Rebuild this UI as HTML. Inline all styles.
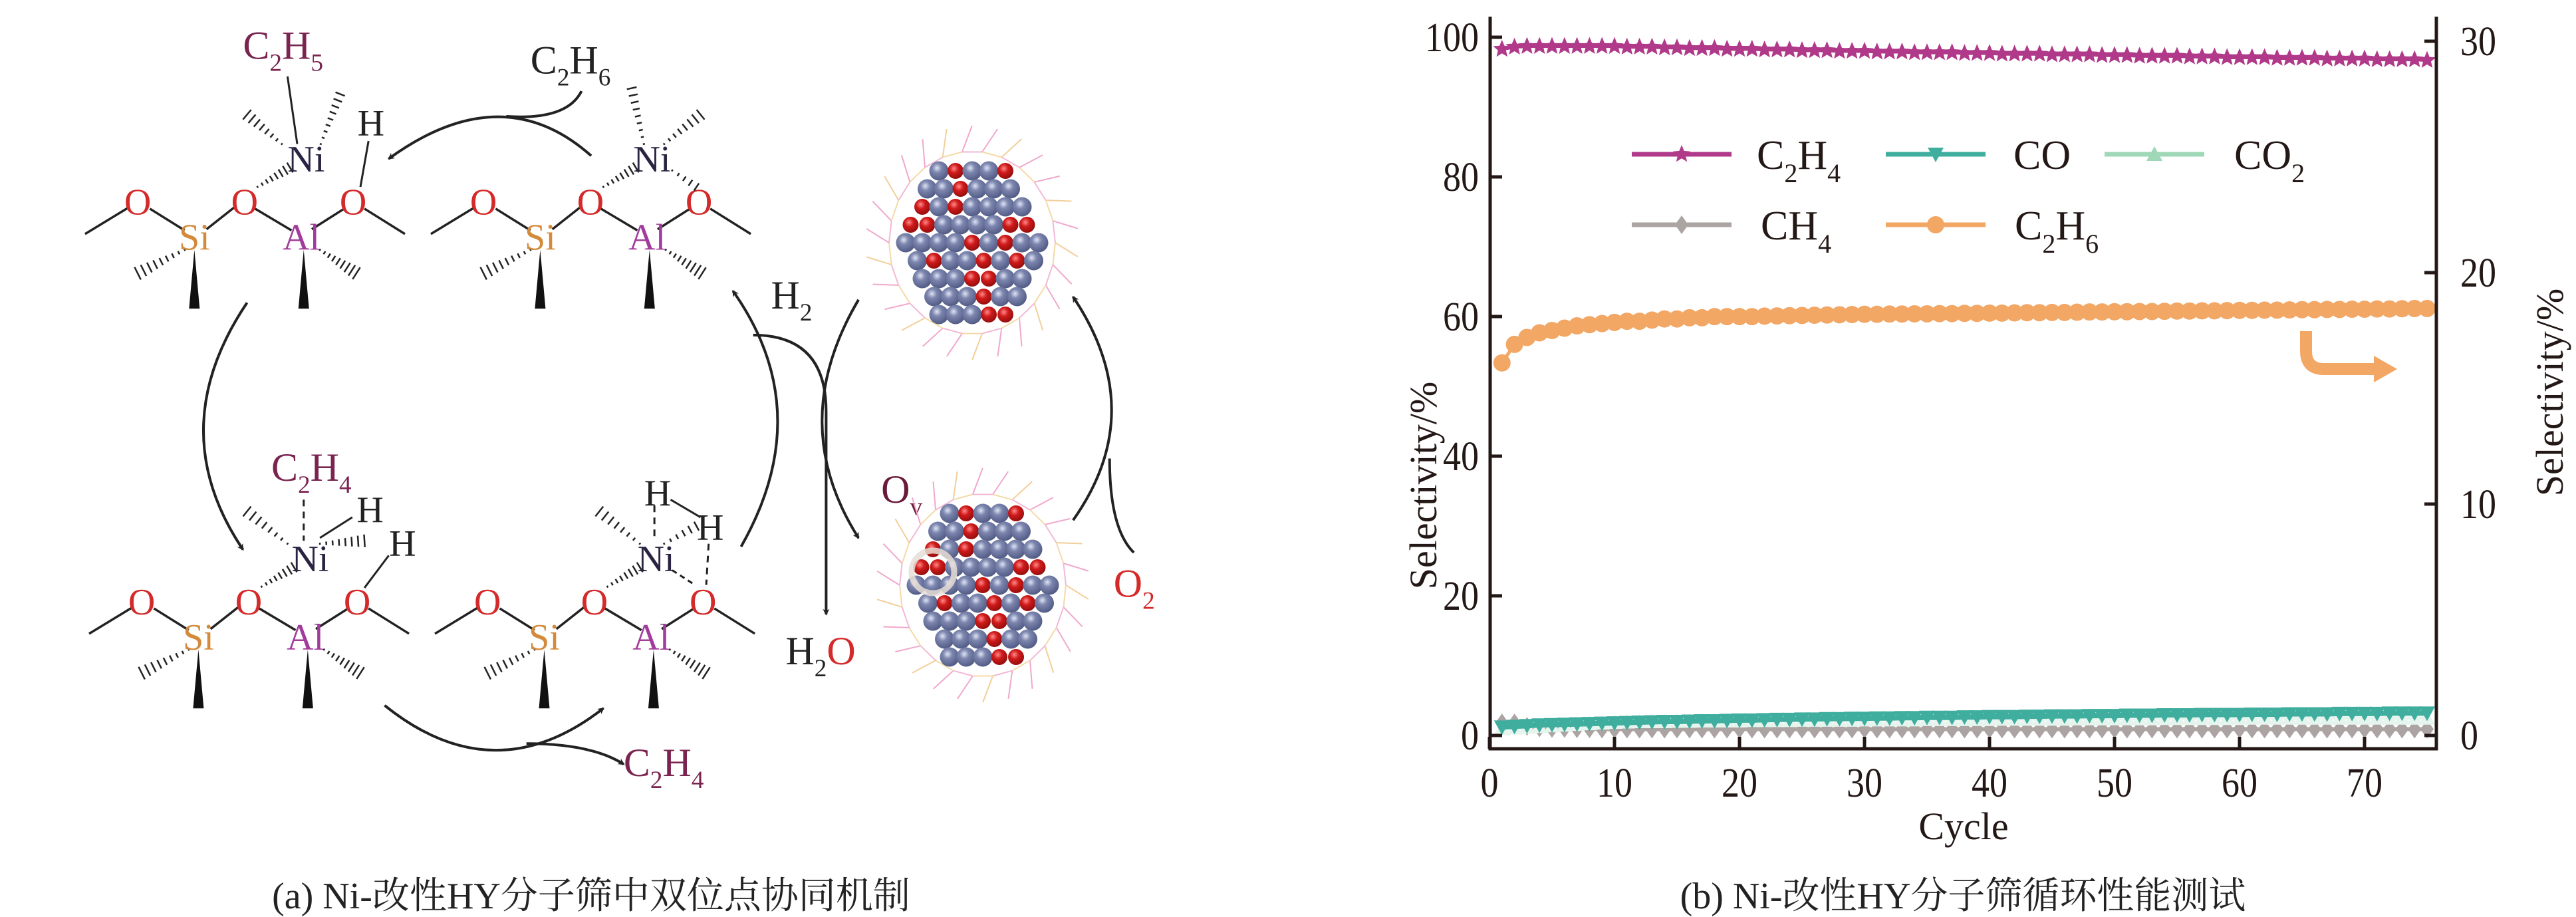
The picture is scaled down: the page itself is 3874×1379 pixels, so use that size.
<!DOCTYPE html>
<html><head><meta charset="utf-8"><style>
html,body{margin:0;padding:0;background:#fff;}
svg{display:block;}
text{font-family:"Liberation Serif","Noto Serif CJK SC",serif;}
</style></head><body>
<svg id="root" width="3874" height="1379" viewBox="0 0 3874 1379" xmlns="http://www.w3.org/2000/svg">
<defs>
<radialGradient id="gB" cx="0.4" cy="0.35" r="0.7"><stop offset="0" stop-color="#dfe4f5"/><stop offset="0.35" stop-color="#7c86ae"/><stop offset="1" stop-color="#4d5680"/></radialGradient>
<radialGradient id="gR" cx="0.4" cy="0.35" r="0.7"><stop offset="0" stop-color="#ff8a8a"/><stop offset="0.4" stop-color="#d01a1a"/><stop offset="1" stop-color="#8e0c0c"/></radialGradient>
<marker id="ah" markerWidth="10" markerHeight="10" refX="8" refY="5" orient="auto" markerUnits="userSpaceOnUse"><path d="M0,0 L10,5 L0,10 L3,5 z" fill="#222"/></marker>
</defs>
<g id="diagram"></g>
<text x="889" y="1366" font-size="56" text-anchor="middle" fill="#222">(a) Ni-改性HY分子筛中双位点协同机制</text>
<g id="chart"></g>
<text x="2952" y="1366" font-size="56" text-anchor="middle" fill="#222">(b) Ni-改性HY分子筛循环性能测试</text>
</svg>
<script>
// ---------- chart data ----------
const cycles = [1,2,3,4,5,6,7,8,9,10,11,12,13,14,15,16,17,18,19,20,21,22,23,24,25,26,27,28,29,30,31,32,33,34,35,36,37,38,39,40,41,42,43,44,45,46,47,48,49,50,51,52,53,54,55,56,57,58,59,60,61,62,63,64,65,66,67,68,69,70,71,72,73,74,75];
const c2h4 = [98.3,98.6,98.7,98.7,98.7,98.7,98.7,98.7,98.7,98.7,98.6,98.6,98.6,98.5,98.5,98.4,98.4,98.4,98.3,98.3,98.3,98.2,98.2,98.2,98.1,98.1,98.1,98.0,98.0,98.0,97.9,97.9,97.9,97.8,97.8,97.8,97.8,97.7,97.7,97.7,97.6,97.6,97.6,97.6,97.5,97.5,97.5,97.5,97.4,97.4,97.4,97.3,97.3,97.3,97.3,97.2,97.2,97.2,97.1,97.1,97.1,97.1,97.0,97.0,97.0,97.0,96.9,96.9,96.9,96.9,96.8,96.8,96.8,96.8,96.7];
const c2h6 = [16.1,16.9,17.2,17.4,17.5,17.6,17.7,17.75,17.8,17.85,17.9,17.9,17.95,18.0,18.0,18.05,18.05,18.1,18.1,18.1,18.1,18.12,18.13,18.14,18.15,18.16,18.17,18.18,18.19,18.2,18.2,18.21,18.21,18.22,18.22,18.23,18.23,18.24,18.24,18.25,18.25,18.26,18.27,18.27,18.28,18.28,18.29,18.3,18.3,18.31,18.31,18.32,18.32,18.33,18.34,18.34,18.35,18.35,18.36,18.37,18.37,18.38,18.38,18.39,18.4,18.4,18.41,18.41,18.42,18.42,18.43,18.43,18.44,18.45,18.45];
const co = [1.2,1.3,1.4,1.5,1.55,1.6,1.65,1.7,1.75,1.8,1.85,1.9,1.95,2.0,2.0,2.05,2.1,2.1,2.15,2.2,2.2,2.25,2.3,2.3,2.35,2.35,2.4,2.4,2.45,2.45,2.5,2.5,2.55,2.55,2.6,2.6,2.6,2.65,2.65,2.7,2.7,2.7,2.75,2.75,2.8,2.8,2.8,2.85,2.85,2.85,2.9,2.9,2.9,2.95,2.95,2.95,3.0,3.0,3.0,3.0,3.05,3.05,3.05,3.1,3.1,3.1,3.1,3.15,3.15,3.15,3.15,3.2,3.2,3.2,3.2];
const co2 = [1.0,1.1,1.2,1.3,1.4,1.5,1.6,1.7,1.8,1.9,1.95,2.0,2.0,2.0,2.05,2.05,2.1,2.1,2.1,2.1,2.15,2.15,2.15,2.15,2.2,2.2,2.2,2.2,2.2,2.25,2.25,2.25,2.25,2.25,2.3,2.3,2.3,2.3,2.3,2.3,2.35,2.35,2.35,2.35,2.35,2.35,2.4,2.4,2.4,2.4,2.4,2.4,2.4,2.45,2.45,2.45,2.45,2.45,2.45,2.45,2.5,2.5,2.5,2.5,2.5,2.5,2.5,2.5,2.5,2.5,2.5,2.5,2.5,2.5,2.5];
const ch4 = [1.8,1.8,1.3,1.1,1.0,1.0,0.95,0.95,0.9,0.9,0.9,0.9,0.9,0.9,0.9,0.9,0.9,0.9,0.9,0.9,0.9,0.9,0.9,0.9,0.9,0.9,0.9,0.9,0.9,0.9,0.9,0.9,0.9,0.9,0.9,0.9,0.9,0.9,0.9,0.9,0.9,0.9,0.9,0.9,0.9,0.9,0.9,0.9,0.9,0.9,0.9,0.9,0.9,0.9,0.9,0.9,0.9,0.9,0.9,0.9,0.9,0.9,0.9,0.9,0.9,0.9,0.9,0.9,0.9,0.9,0.9,0.9,0.9,0.9,0.9];
const xTicks = [0,10,20,30,40,50,60,70];
const yLeftTicks = [0,20,40,60,80,100];
const yRightTicks = [0,10,20,30];

const NS = "http://www.w3.org/2000/svg";
function mk(tag, attrs, parent){const e=document.createElementNS(NS,tag);for(const k in attrs)e.setAttribute(k,attrs[k]);parent.appendChild(e);return e;}

const chart = document.getElementById('chart');
const PL=2241, PR=3664, PT=25, PB=1126;
const xs = v => 2240 + v*18.8;
const yl = v => 1106 - v*10.5;
const yr = v => 1106 - v*(1106-62)/30;

function starPath(cx,cy,r){let d='';for(let i=0;i<10;i++){const a=-Math.PI/2+i*Math.PI/5;const rr=i%2?r*0.45:r;d+=(i?'L':'M')+(cx+rr*Math.cos(a)).toFixed(1)+','+(cy+rr*Math.sin(a)).toFixed(1);}return d+'Z';}
function marker(type,cx,cy,color,g){
  let el;
  if(type==='star') el=mk('path',{d:starPath(cx,cy,14),fill:color},g);
  else if(type==='down') el=mk('path',{d:`M${cx-12},${cy-10}L${cx+12},${cy-10}L${cx},${cy+12}Z`,fill:color},g);
  else if(type==='up') el=mk('path',{d:`M${cx-12},${cy+10}L${cx+12},${cy+10}L${cx},${cy-12}Z`,fill:color},g);
  else if(type==='diamond') el=mk('path',{d:`M${cx},${cy-14}L${cx+10},${cy}L${cx},${cy+14}L${cx-10},${cy}Z`,fill:color},g);
  else el=mk('circle',{cx:cx,cy:cy,r:13,fill:color},g);
  return el;
}
function series(name,vals,yf,color,type,lw){
  const g=mk('g',{},chart);
  
  
  const pts=vals.map((v,i)=>xs(cycles[i]).toFixed(1)+','+yf(v).toFixed(1)).join(' ');
  const ln=mk('polyline',{points:pts,fill:'none',stroke:color,'stroke-width':lw},g);
  
  
  vals.forEach((v,i)=>{
    const m=marker(type,xs(cycles[i]),yf(v),color,g);
    
    
  });
}
series('ch4',ch4,yl,'#aca4a2','diamond',6);
series('co2',co2,yl,'#e6f4ee','up',5);
series('co',co,yl,'#3fae9e','down',8);
series('c2h4',c2h4,yl,'#b0398a','star',5);
series('c2h6',c2h6,yr,'#f2a765','circle',5);

const frame=mk('path',{d:`M${PL},${PT}L${PL},${PB}L${PR},${PB}L${PR},${PT}`,fill:'none',stroke:'#231815','stroke-width':5},chart);


function num(t,x,y,anchor,name){
  const tx=mk('text',{x:x,y:y,'font-size':62,'text-anchor':anchor,fill:'#231815',textLength:String(t).length*27,lengthAdjust:'spacingAndGlyphs'},chart);
  tx.textContent=t;
  
  
}
xTicks.forEach(t=>{
  const l=mk('line',{x1:xs(t),x2:xs(t),y1:PB,y2:PB-18,stroke:'#231815','stroke-width':5},chart);
  
  
  num(t,xs(t),1198,'middle','x-tick-label');
});
yLeftTicks.forEach(t=>{
  const l=mk('line',{x1:PL,x2:PL+18,y1:yl(t),y2:yl(t),stroke:'#231815','stroke-width':5},chart);
  
  
  num(t,2224,yl(t)+21,'end','y-left-tick-label');
});
yRightTicks.forEach(t=>{
  const l=mk('line',{x1:PR,x2:PR-18,y1:yr(t),y2:yr(t),stroke:'#231815','stroke-width':5},chart);
  
  
  num(t,3700,yr(t)+21,'start','y-right-tick-label');
});

// ---------- diagram ----------
const dg=document.getElementById('diagram');
const X=z=>z*1.218, Y=z=>z*0.884;
function L(x1,y1,x2,y2,w,c){mk('line',{x1:X(x1),y1:Y(y1),x2:X(x2),y2:Y(y2),stroke:c||'#222','stroke-width':w||3},dg);}
function hash(x1,y1,x2,y2,n,wmax){
  const dx=X(x2)-X(x1), dy=Y(y2)-Y(y1), len=Math.hypot(dx,dy), ux=dx/len, uy=dy/len;
  for(let i=0;i<=n;i++){const t=i/n, cx=X(x1)+dx*t, cy=Y(y1)+dy*t, h=1.5+wmax*t;
    mk('line',{x1:cx-uy*h,y1:cy+ux*h,x2:cx+uy*h,y2:cy-ux*h,stroke:'#222','stroke-width':2.5},dg);}
}
function wedge(x,y1,y2,w){mk('path',{d:`M${X(x)},${Y(y1)}L${X(x)-w},${Y(y2)}L${X(x)+w},${Y(y2)}Z`,fill:'#111'},dg);}
function T(str,x,y,color,size,name){
  const t=mk('text',{x:X(x),y:Y(y),'font-size':size||56,'text-anchor':'middle',fill:color||'#222'},dg);
  
  
  t.textContent=str;
  return t;
}
function formula(parts,x,y,color,size,name){
  const t=mk('text',{x:X(x),y:Y(y),'font-size':size,fill:color},dg);
  
  
  parts.forEach(p=>{const s=mk('tspan',{},t);s.textContent=p[0];
    if(p[1]){s.setAttribute('font-size',size*0.62);s.setAttribute('dy',size*0.3);} else if(p[2]){s.setAttribute('dy',-size*0.3);} });
  return t;
}
function unit(ox,oy,name){
  const a=(x1,y1,x2,y2)=>L(x1+ox,y1+oy,x2+ox,y2+oy,3.5);
  a(105,398,160,352);a(185,355,228,392);a(255,390,290,352);a(315,355,360,392);a(385,390,425,355);a(450,355,500,398);
  hash(228+ox,425+oy,170+ox,465+oy,8,9);hash(395+ox,425+oy,440+ox,465+oy,8,9);
  wedge(240+ox,425+oy,525+oy,8);wedge(375+ox,425+oy,525+oy,8);
  hash(318+ox,318+oy,358+ox,285+oy,7,7);
  T('O',170+ox,365+oy,'#d42a2a',56,name+'-o1');T('O',302+ox,365+oy,'#d42a2a',56,name+'-o2');T('O',436+ox,365+oy,'#d42a2a',56,name+'-o3');
  T('Si',240+ox,425+oy,'#d38a3a',56,name+'-si');T('Al',372+ox,425+oy,'#a23c9c',56,name+'-al');
  T('Ni',378+ox,292+oy,'#2a2342',56,name+'-ni');
}
unit(0,0,'tl');unit(427,0,'tr');unit(5,680,'bl');unit(432,680,'br');
L(367,245,355,130,3);hash(348,245,305,195,7,8);hash(396,245,420,160,8,6);L(445,318,455,240,3);
T('H',458,230,'#222',56,'tl-h');
formula([['C'],['2',1],['H',0,1],['5',1]],300,100,'#7a2450',60,'c2h5-label');
hash(795,245,780,150,8,6);hash(820,245,865,195,7,8);hash(830,290,860,318,4,5);
mk('line',{x1:X(375),y1:Y(850),x2:X(375),y2:Y(920),stroke:'#222','stroke-width':3,'stroke-dasharray':'10,8'},dg);
hash(355,925,305,870,7,8);hash(395,925,450,920,7,8);L(395,915,435,880,3);L(450,1000,480,945,3);
formula([['C'],['2',1],['H',0,1],['4',1]],335,818,'#7a2450',60,'c2h4-bound-label');
T('H',457,888,'#222',56,'bl-h1');T('H',497,945,'#222',56,'bl-h2');
mk('line',{x1:X(808),y1:Y(860),x2:X(808),y2:Y(920),stroke:'#222','stroke-width':3,'stroke-dasharray':'10,8'},dg);
L(828,850,865,880,3);mk('line',{x1:X(875),y1:Y(925),x2:X(872),y2:Y(995),stroke:'#222','stroke-width':3,'stroke-dasharray':'10,8'},dg);
mk('line',{x1:X(830),y1:Y(970),x2:X(858),y2:Y(995),stroke:'#222','stroke-width':3,'stroke-dasharray':'8,6'},dg);
hash(790,925,740,870,7,8);hash(820,925,860,895,5,6);
T('H',812,860,'#222',56,'br-h1');T('H',877,918,'#222',56,'br-h2');
function P(d,name,arrow){const p=mk('path',{d:d,fill:'none',stroke:'#222','stroke-width':4},dg);if(arrow)p.setAttribute('marker-end','url(#ah)');}
const C=(pts)=>pts.map(p=>X(p[0]).toFixed(1)+','+Y(p[1]).toFixed(1)).join(' ');
P('M'+C([[730,265]])+' Q'+C([[620,130],[480,270]]),'arrow-top',true);
P('M'+C([[718,155]])+' Q'+C([[700,205],[625,198]]),'arrow-c2h6-in',false);
P('M'+C([[305,515]])+' Q'+C([[200,730],[300,935]]),'arrow-left',true);
P('M'+C([[915,930]])+' Q'+C([[1010,700],[905,495]]),'arrow-right',true);
P('M'+C([[475,1200]])+' Q'+C([[610,1350],[745,1205]]),'arrow-bottom',true);
P('M'+C([[650,1265]])+' Q'+C([[730,1265],[770,1300]]),'arrow-c2h4-out',true);
P('M'+C([[930,570]])+' Q'+C([[1020,570],[1020,700]])+' L'+C([[1020,1045]]),'arrow-h2o',true);
P('M'+C([[1060,510]])+' Q'+C([[970,720],[1060,915]]),'arrow-reduce',true);
P('M'+C([[1325,885]])+' Q'+C([[1420,700],[1325,505]]),'arrow-oxidize',true);
P('M'+C([[1400,940]])+' Q'+C([[1370,900],[1370,780]]),'arrow-o2-in',false);
formula([['C'],['2',1],['H',0,1],['6',1]],655,125,'#222',60,'c2h6-label');
formula([['H'],['2',1]],952,525,'#222',60,'h2-label');
const h2o=formula([['H'],['2',1]],970,1130,'#222',60,'h2o-label');const os=mk('tspan',{fill:'#d42a2a',dy:-18},h2o);os.textContent='O';
formula([['O'],['v',1]],1088,855,'#6a1a3a',60,'ov-label');
formula([['O'],['2',1]],1375,1015,'#d42a2a',60,'o2-label');
formula([['C'],['2',1],['H',0,1],['4',1]],770,1320,'#7a2450',60,'c2h4-product-label');
function cluster(cx,cy,name,ring){
  const g=mk('g',{},dg);
  
  
  for(let i=0;i<26;i++){const a=i/26*Math.PI*2, r1=125, r2=160;
    const x1=cx+r1*Math.cos(a), y1=cy+r1*1.1*Math.sin(a), x2=cx+r2*Math.cos(a+0.12), y2=cy+r2*1.1*Math.sin(a+0.12);
    mk('line',{x1:x1,y1:y1,x2:x2,y2:y2,stroke:i%3?'#f0a8cc':'#f2cf9a','stroke-width':2},g);
    const a2=(i+1)/26*Math.PI*2;
    mk('line',{x1:x1,y1:y1,x2:cx+r1*Math.cos(a2),y2:cy+r1*1.1*Math.sin(a2),stroke:i%2?'#f2b8d6':'#f5d9a8','stroke-width':2},g);}
  let k=0;
  for(let row=-4;row<=4;row++){const n=9-Math.abs(row);for(let j=0;j<n;j++){
    const x=cx+(j-(n-1)/2)*25+(row%2)*5, y=cy+row*27;
    const red=((k*7+row*3)%5===0)||((k*11)%7===2);k++;
    mk('circle',{cx:x,cy:y,r:red?12:14.5,fill:red?'url(#gR)':'url(#gB)'},g);}}
  if(ring) mk('circle',{cx:cx-75,cy:cy-20,r:32,fill:'none',stroke:'#e6ddd6','stroke-width':9,opacity:0.85},g);
}
cluster(1462,365,'cluster-oxidized',false);
cluster(1478,880,'cluster-reduced',true);

function ctext(str,x,y,size,anchor,name,rot){const t=mk('text',{x:x,y:y,'font-size':size,'text-anchor':anchor,fill:'#231815'},chart);if(rot)t.setAttribute('transform',`rotate(-90 ${x} ${y})`);t.textContent=str;return t;}
ctext('Selectivity/%',2160,730,58,'middle','y-left-title',true);
ctext('Selectivity/%',3854,590,58,'middle','y-right-title',true);
ctext('Cycle',2953,1262,58,'middle','x-axis-title',false);
function cform(parts,x,y,name){const t=mk('text',{x:x,y:y,'font-size':62,fill:'#231815'},chart);
  parts.forEach(p=>{const s=mk('tspan',{},t);s.textContent=p[0];if(p[1]){s.setAttribute('font-size',40);s.setAttribute('dy',20);}else if(p[2]){s.setAttribute('dy',-20);}});}
function legend(name,x1,y,color,type,label,lx){
  const g=mk('g',{},chart);
  
  
  mk('line',{x1:x1,x2:x1+150,y1:y,y2:y,stroke:color,'stroke-width':7},g);
  marker(type,x1+75,y,color,g);
  cform(label,lx,y+22,'legend-label-'+name);
}
legend('c2h4',2454,232,'#b0398a','star',[['C'],['2',1],['H',0,1],['4',1]],2642);
legend('co',2836,232,'#3fae9e','down',[['CO']],3028);
legend('co2',3165,232,'#9fd8b6','up',[['CO'],['2',1]],3360);
legend('ch4',2454,338,'#aca4a2','diamond',[['CH'],['4',1]],2648);
legend('c2h6',2836,338,'#f2a765','circle',[['C'],['2',1],['H',0,1],['6',1]],3030);
const arr=mk('path',{d:'M3468,498 L3468,528 Q3468,555 3495,555 L3575,555',fill:'none',stroke:'#f2a765','stroke-width':18},chart);


const ah=mk('path',{d:'M3570,535 L3605,555 L3570,575 Z',fill:'#f2a765'},chart);


</script>
</body></html>
